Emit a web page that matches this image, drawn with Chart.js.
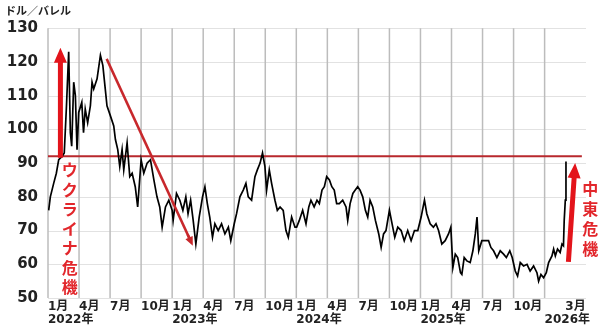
<!DOCTYPE html>
<html lang="ja">
<head>
<meta charset="UTF-8">
<title>原油価格</title>
<script src="https://cdn.jsdelivr.net/npm/chart.js"></script>
<style>
  html, body { margin: 0; padding: 0; background: #fff; }
  .wrap { width: 600px; height: 328px; }
</style>
</head>
<body>
<div class="wrap"><canvas id="myChart"></canvas></div>
<script>
// ---- data ----
var dates = [
  '2022-01-03','2022-01-08','2022-01-18','2022-01-26','2022-02-02','2022-02-11','2022-02-17','2022-02-23',
  '2022-03-01','2022-03-06','2022-03-10','2022-03-16','2022-03-21','2022-03-26','2022-03-31','2022-04-09',
  '2022-04-14','2022-04-19','2022-04-26','2022-05-04','2022-05-09','2022-05-14','2022-05-24','2022-06-03',
  '2022-06-10','2022-06-17','2022-06-22','2022-07-02','2022-07-12','2022-07-17','2022-07-24','2022-07-30',
  '2022-08-06','2022-08-11','2022-08-21','2022-08-29','2022-09-05','2022-09-14','2022-09-21','2022-10-01',
  '2022-10-09','2022-10-19','2022-10-29','2022-11-08','2022-11-17','2022-11-25','2022-12-02','2022-12-12',
  '2022-12-22',
  '2023-01-01','2023-01-04','2023-01-14','2023-01-24','2023-02-02','2023-02-10','2023-02-16','2023-02-23',
  '2023-03-02','2023-03-10','2023-03-20','2023-03-30','2023-04-06','2023-04-13','2023-04-20','2023-04-28',
  '2023-05-05','2023-05-15','2023-05-25','2023-06-04','2023-06-14','2023-06-21','2023-07-01','2023-07-08',
  '2023-07-18','2023-07-28','2023-08-05','2023-08-12','2023-08-22','2023-09-01','2023-09-08','2023-09-16',
  '2023-09-23','2023-09-30','2023-10-05','2023-10-13','2023-10-20','2023-10-30','2023-11-06','2023-11-14',
  '2023-11-23','2023-12-01','2023-12-08','2023-12-18','2023-12-28',
  '2024-01-02','2024-01-10','2024-01-20','2024-01-30','2024-02-07','2024-02-13','2024-02-22','2024-03-01',
  '2024-03-08','2024-03-16','2024-03-23','2024-03-30','2024-04-07','2024-04-14','2024-04-21','2024-04-28',
  '2024-05-06','2024-05-16','2024-05-26','2024-05-31','2024-06-07','2024-06-15','2024-06-22','2024-06-29',
  '2024-07-06','2024-07-14','2024-07-22','2024-07-29','2024-08-05','2024-08-13','2024-08-21','2024-08-31',
  '2024-09-07','2024-09-14','2024-09-21','2024-10-01','2024-10-09','2024-10-17','2024-10-26','2024-11-05',
  '2024-11-14','2024-11-24','2024-12-04','2024-12-14','2024-12-24',
  '2025-01-03','2025-01-13','2025-01-20','2025-01-30','2025-02-08','2025-02-15','2025-02-22','2025-03-03',
  '2025-03-13','2025-03-23','2025-03-30','2025-04-05','2025-04-12','2025-04-19','2025-04-27','2025-05-01',
  '2025-05-08','2025-05-16','2025-05-26','2025-06-03','2025-06-10','2025-06-15','2025-06-20','2025-06-29',
  '2025-07-09','2025-07-19','2025-07-26','2025-08-03','2025-08-13','2025-08-23','2025-09-02','2025-09-10',
  '2025-09-20','2025-09-27','2025-10-06','2025-10-13','2025-10-21','2025-10-31','2025-11-10','2025-11-19',
  '2025-11-29','2025-12-09','2025-12-14','2025-12-21','2025-12-29',
  '2026-01-06','2026-01-13','2026-01-23','2026-01-28','2026-02-02','2026-02-08','2026-02-15','2026-02-20',
  '2026-02-24','2026-02-26','2026-03-01','2026-03-03'
];
var prices = [
  76, 80, 84, 87, 91, 92, 93, 107,
  123, 99, 95, 114, 110, 94, 105, 108,
  99, 106, 102, 107, 114, 112, 115, 122,
  119, 112, 107, 104, 101, 97, 94, 89,
  94, 88, 96, 86, 87, 83, 77, 91,
  87, 90, 91, 85, 80, 77, 71, 77,
  79,
  76, 73, 81, 79, 76, 80, 75, 79,
  73, 66, 74, 80, 83, 78, 74, 68,
  72, 70, 72, 69, 71, 67, 72, 75,
  80, 82, 84, 80, 79, 86, 88, 90,
  93, 89, 82, 88, 84, 79, 76, 77,
  76, 70, 68, 74, 71,
  71, 73, 76, 72, 77, 79, 77, 79,
  78, 82, 83, 86, 85, 83, 82, 78,
  78, 79, 77, 73, 78, 81, 82, 83,
  82, 80, 76, 74, 79, 77, 73, 69,
  65, 69, 70, 76, 72, 68, 71, 70,
  67, 70, 67, 70, 70,
  74, 79, 75, 72, 71, 72, 70, 66,
  67, 69, 71, 59, 63, 62, 57.5, 57,
  62, 61, 60.5, 64, 69, 74, 64, 67,
  67, 67, 65, 64, 62, 64, 63, 62,
  64, 62, 58, 56.5, 60.5, 59.5, 60, 58,
  59.5, 57.5, 55, 57, 56,
  57.5, 60.5, 62.5, 64.5, 62.5, 64.5, 63.5, 66,
  65.5, 73, 79, 90.5
];
var refLevel = 92;            // 赤の横線
var yTicks = [50, 60, 70, 80, 90, 100, 110, 120, 130];
var tickMonths = [0, 3, 6, 9, 12, 15, 18, 21, 24, 27, 30, 33, 36, 39, 42, 45, 48, 50];
var tickLabels = [
  ['1月', '2022年'], ['4月'], ['7月'], ['10月'],
  ['1月', '2023年'], ['4月'], ['7月'], ['10月'],
  ['1月', '2024年'], ['4月'], ['7月'], ['10月'],
  ['1月', '2025年'], ['4月'], ['7月'], ['10月'],
  ['', '2026年'], ['3月']
];
var noGridMonths = [50];      // 3月のラベルだけの目盛り

// 日付 -> 2022年1月からの月数
function monthPos(d) {
  var p = d.split('-');
  var y = +p[0], mo = +p[1], day = +p[2];
  var dim = new Date(y, mo, 0).getDate();
  return (y - 2022) * 12 + (mo - 1) + (day - 1) / dim;
}

var points = dates.map(function (d, i) { return { x: monthPos(d), y: prices[i] }; });

var jpFont = "'DejaVu Sans', 'Noto Sans CJK JP', sans-serif";
var cjkFont = "'Noto Sans CJK JP', sans-serif";

function thickArrow(ctx, x0, y0, x1, y1, shaftW, headW, headL, color) {
  var dx = x1 - x0, dy = y1 - y0;
  var len = Math.sqrt(dx * dx + dy * dy);
  var ux = dx / len, uy = dy / len;
  var nx = -uy, ny = ux;
  var bx = x1 - ux * headL, by = y1 - uy * headL;
  ctx.fillStyle = color;
  ctx.beginPath();
  ctx.moveTo(x0 + nx * shaftW / 2, y0 + ny * shaftW / 2);
  ctx.lineTo(bx + nx * shaftW / 2, by + ny * shaftW / 2);
  ctx.lineTo(bx + nx * headW / 2, by + ny * headW / 2);
  ctx.lineTo(x1, y1);
  ctx.lineTo(bx - nx * headW / 2, by - ny * headW / 2);
  ctx.lineTo(bx - nx * shaftW / 2, by - ny * shaftW / 2);
  ctx.lineTo(x0 - nx * shaftW / 2, y0 - ny * shaftW / 2);
  ctx.closePath();
  ctx.fill();
}

function verticalText(ctx, text, x, y, step) {
  for (var i = 0; i < text.length; i++) {
    ctx.fillText(text[i], x, y + i * step);
  }
}

// 目盛り線 (スケールの目盛り位置から引く)
var gridLines = {
  id: 'gridLines',
  beforeDatasetsDraw: function (chart) {
    var ctx = chart.ctx, a = chart.chartArea;
    var xs = chart.scales.x, ys = chart.scales.y;
    ctx.save();
    ctx.lineWidth = 1;
    ctx.strokeStyle = '#e2e2e2';
    ys.ticks.forEach(function (t) {
      var y = Math.round(ys.getPixelForValue(t.value)) + 0.5;
      ctx.beginPath(); ctx.moveTo(a.left, y); ctx.lineTo(a.right, y); ctx.stroke();
    });
    ctx.lineWidth = 1.5;
    ctx.strokeStyle = '#bcbcbc';
    xs.ticks.forEach(function (t) {
      if (noGridMonths.indexOf(t.value) >= 0) return;
      var x = xs.getPixelForValue(t.value);
      ctx.beginPath(); ctx.moveTo(x, a.top); ctx.lineTo(x, a.bottom); ctx.stroke();
    });
    ctx.restore();
  }
};

var notes = {
  id: 'notes',
  afterDatasetsDraw: function (chart) {
    var ctx = chart.ctx;
    var xs = chart.scales.x, ys = chart.scales.y;
    function px(m) { return xs.getPixelForValue(m); }
    function py(v) { return ys.getPixelForValue(v); }
    ctx.save();

    // ウクライナ危機の矢印
    thickArrow(ctx, px(1.2), py(91.6), px(1.2), py(124.2), 5, 13, 15, '#e3141b');

    // 下落の斜め矢印
    var sx = px(5.67), sy = py(120.9), ex = px(14.0), ey = py(65.5);
    ctx.strokeStyle = '#c8282c';
    ctx.lineWidth = 2.5;
    ctx.beginPath();
    ctx.moveTo(sx, sy);
    ctx.lineTo(ex - (ex - sx) * 0.03, ey - (ey - sy) * 0.03);
    ctx.stroke();
    thickArrow(ctx, ex - (ex - sx) * 0.06, ey - (ey - sy) * 0.06, ex, ey, 2.5, 8, 9, '#c8282c');

    // 中東危機の矢印
    thickArrow(ctx, px(50.3), py(60.7), px(50.95), py(90.0), 5, 13, 15, '#e3141b');

    // 縦書きの文字
    ctx.fillStyle = '#e2262b';
    ctx.font = 'bold 16px ' + cjkFont;
    ctx.textAlign = 'center';
    ctx.textBaseline = 'middle';
    verticalText(ctx, 'ウクライナ危機', px(2.1), 170, 19.5);
    verticalText(ctx, '中東危機', px(52.4), 189, 20);

    ctx.restore();
  }
};

new Chart(document.getElementById('myChart'), {
  type: 'line',
  data: {
    datasets: [{
      data: points,
      borderColor: '#000',
      borderWidth: 1.7,
      pointRadius: 0,
      tension: 0,
      fill: false
    }, {
      data: [{ x: 0, y: refLevel }, { x: 51.6, y: refLevel }],
      borderColor: '#b8282d',
      borderWidth: 2,
      pointRadius: 0,
      clip: false,
      fill: false
    }]
  },
  options: {
    responsive: true,
    maintainAspectRatio: false,
    animation: false,
    layout: { padding: { left: 5, right: 14, top: 0, bottom: 0 } },
    plugins: {
      legend: { display: false },
      tooltip: { enabled: false },
      title: {
        display: true,
        text: 'ドル／バレル',
        align: 'start',
        color: '#222',
        font: { family: cjkFont, size: 11, weight: 'bold' },
        padding: { top: 4, bottom: 11 }
      }
    },
    scales: {
      x: {
        type: 'linear',
        min: 0,
        max: 52,
        afterBuildTicks: function (scale) {
          scale.ticks = tickMonths.map(function (m) { return { value: m }; });
        },
        afterFit: function (scale) { scale.height = 30; },
        grid: { display: false, drawTicks: false },
        border: { display: false },
        ticks: {
          autoSkip: false,
          minRotation: 0,
          maxRotation: 0,
          align: 'start',
          padding: 2,
          color: '#222',
          font: { family: jpFont, size: 12, weight: 'bold', lineHeight: 1.1 },
          callback: function (value) {
            var i = tickMonths.indexOf(value);
            return i >= 0 ? tickLabels[i] : '';
          }
        }
      },
      y: {
        min: 50,
        max: 130,
        afterBuildTicks: function (scale) {
          scale.ticks = yTicks.map(function (v) { return { value: v }; });
        },
        afterFit: function (scale) { scale.width = 43; },
        grid: { display: false, drawTicks: false },
        border: { display: false },
        ticks: {
          padding: 10,
          color: '#222',
          font: { family: "'DejaVu Sans', sans-serif", size: 15, weight: 'bold' }
        }
      }
    }
  },
  plugins: [gridLines, notes]
});
</script>
</body>
</html>
